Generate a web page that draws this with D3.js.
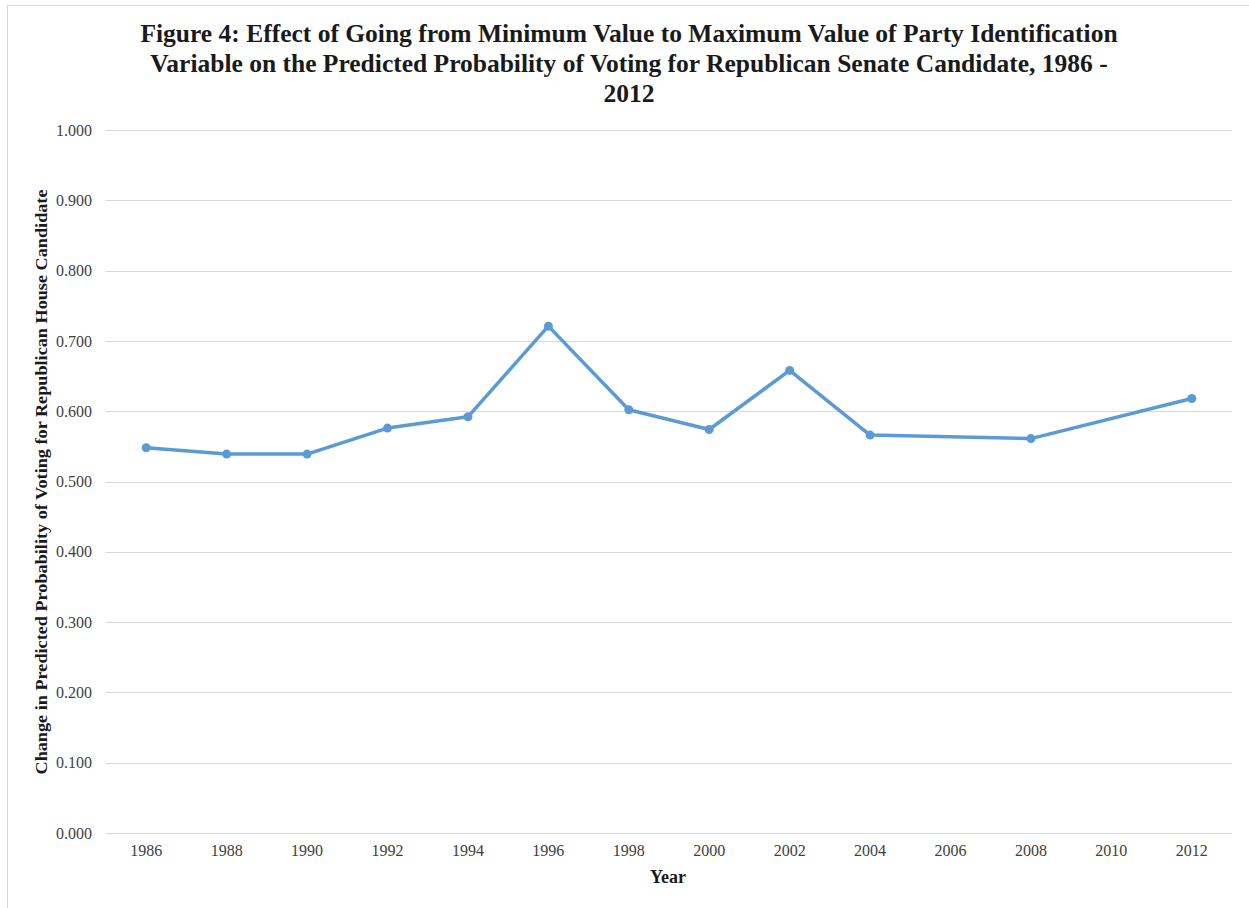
<!DOCTYPE html>
<html>
<head>
<meta charset="utf-8">
<script src="https://cdn.jsdelivr.net/npm/d3@7"></script>
<style>
  html, body { margin: 0; padding: 0; background: #fff; }
  svg { display: block; }
</style>
</head>
<body>
<svg id="chart" width="1249" height="908"></svg>
<script>
// Election years on the category axis (2006 and 2010 have no estimate)
const years = ["1986","1988","1990","1992","1994","1996","1998","2000","2002","2004","2006","2008","2010","2012"];
// Change in predicted probability, by year
const effectYears = ["1986","1988","1990","1992","1994","1996","1998","2000","2002","2004","2008","2012"];
const effectValues = [0.548, 0.539, 0.539, 0.576, 0.592, 0.721, 0.602, 0.574, 0.658, 0.566, 0.561, 0.618];
const yTicks = [0, 0.1, 0.2, 0.3, 0.4, 0.5, 0.6, 0.7, 0.8, 0.9, 1.0];

const titleLines = [
  "Figure 4: Effect of Going from Minimum Value to Maximum Value of Party Identification",
  "Variable on the Predicted Probability of Voting for Republican Senate Candidate, 1986 -",
  "2012"
];
const yTitle = "Change  in Predicted  Probability  of  Voting  for Republican  House Candidate";
const xTitle = "Year";

const svg = d3.select("#chart");
const margin = { left: 106, right: 1232, top: 130, bottom: 833 };
const serif = "'Liberation Serif', 'Times New Roman', serif";

// outer frame
svg.append("rect")
  .attr("x", 7.5).attr("y", 5.5)
  .attr("width", 1260).attr("height", 920)
  .attr("fill", "#fff").attr("stroke", "#d9d9d9").attr("stroke-width", 1);

const x = d3.scaleBand().domain(years).range([margin.left, margin.right]);
const y = d3.scaleLinear().domain([0, 1]).range([margin.bottom, margin.top]);

// horizontal gridlines
svg.append("g").selectAll("line").data(yTicks).join("line")
  .attr("x1", margin.left).attr("x2", margin.right)
  .attr("y1", d => Math.round(y(d)) + 0.5).attr("y2", d => Math.round(y(d)) + 0.5)
  .attr("stroke", "#d9d9d9").attr("stroke-width", 1);

// y axis labels
const yAxis = d3.axisLeft(y).tickValues(yTicks).tickFormat(d3.format(".3f")).tickSize(0).tickPadding(0);
const gy = svg.append("g").attr("transform", "translate(92,0)").call(yAxis);
gy.select(".domain").remove();
gy.selectAll("text").attr("font-family", serif).attr("font-size", 16).attr("fill", "#404040").attr("dy", "0.32em");

// x axis labels
const xAxis = d3.axisBottom(x).tickSize(0).tickPadding(0);
const gx = svg.append("g").attr("transform", `translate(0,${margin.bottom + 12})`).call(xAxis);
gx.select(".domain").remove();
gx.selectAll("text").attr("font-family", serif).attr("font-size", 16).attr("fill", "#404040").attr("dy", "0.71em");

// data line and markers
const pts = effectYears.map((yr, i) => ({ yr, v: effectValues[i] }));
const line = d3.line().x(d => x(d.yr) + x.bandwidth() / 2).y(d => y(d.v));
svg.append("path").datum(pts)
  .attr("d", line).attr("fill", "none")
  .attr("stroke", "#5b9bd5").attr("stroke-width", 3.5)
  .attr("stroke-linejoin", "round").attr("stroke-linecap", "round");
svg.append("g").selectAll("circle").data(pts).join("circle")
  .attr("cx", d => x(d.yr) + x.bandwidth() / 2).attr("cy", d => y(d.v))
  .attr("r", 4.5).attr("fill", "#5b9bd5");

// title
svg.append("g").selectAll("text").data(titleLines).join("text")
  .attr("x", 629).attr("y", (d, i) => 42 + i * 30)
  .attr("text-anchor", "middle")
  .attr("font-family", serif).attr("font-weight", "bold").attr("font-size", 25.5)
  .attr("fill", "#1a1a1a").text(d => d);

// axis titles
svg.append("text")
  .attr("transform", "translate(47,482) rotate(-90)")
  .attr("text-anchor", "middle")
  .attr("font-family", serif).attr("font-weight", "bold").attr("font-size", 17)
  .attr("textLength", 585).attr("lengthAdjust", "spacingAndGlyphs")
  .attr("fill", "#1a1a1a").text(yTitle);
svg.append("text")
  .attr("x", 668).attr("y", 883)
  .attr("text-anchor", "middle")
  .attr("font-family", serif).attr("font-weight", "bold").attr("font-size", 18)
  .attr("fill", "#1a1a1a").text(xTitle);
</script>
</body>
</html>
